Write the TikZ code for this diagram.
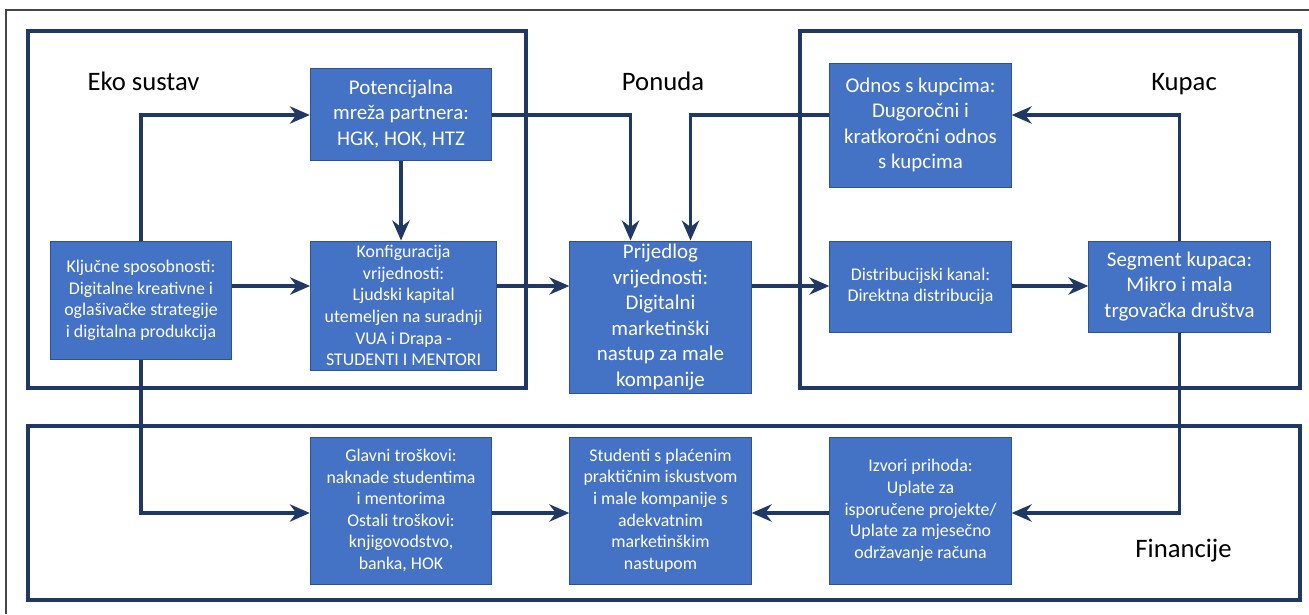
\documentclass[tikz,border=0pt]{standalone}
\usepackage{fontspec}
\setmainfont{Carlito}
\usetikzlibrary{arrows.meta, calc}
\definecolor{boxblue}{RGB}{68,114,196}
\definecolor{boxedge}{RGB}{47,82,143}
\definecolor{linenavy}{RGB}{32,56,100}

\begin{document}
\begin{tikzpicture}[x=0.75pt,y=0.75pt,yscale=-1,xscale=1,
        blok/.style={draw=boxedge, line width=0.75pt, fill=boxblue, text=white, align=center, inner sep=0pt, minimum width=136pt},
        velik/.style={font=\fontsize{15.7}{19.1}\selectfont},
        mali/.style={font=\fontsize{13.4}{16.2}\selectfont},
        okvir/.style={draw=linenavy, line width=2.4pt},
        veza/.style={draw=linenavy, line width=2.4pt, -{Stealth[length=15pt,width=13pt]}},
        naslov/.style={font=\fontsize{20}{24}\selectfont, anchor=base}]
        \useasboundingbox (0,0) rectangle (1309,614);
        
        %outer frame
        \draw [color={rgb, 255:red, 70; green, 70; blue, 70 }, line width=1pt] (6,614) -- (6,10) -- (1309,10) ;
        
        %Group frames
        \draw [okvir] (28,31) rectangle (526,388) ;
        \draw [okvir] (800,31) rectangle (1300,388) ;
        \draw [okvir] (28,426) rectangle (1300,600) ;
        
        % Text Node
        \node [naslov] (eko) at (143.5,90) {Eko sustav};
        \node [naslov] (ponuda) at (663,90) {Ponuda};
        \node [naslov] (kupac) at (1184,90) {Kupac};
        \node [naslov] (financije) at (1183.5,557) {Financije};
        
        % Blocks
        \node [blok, velik, minimum height=69pt] (potencijal) at (401,114) {Potencijalna\\mreža partnera:\\HGK, HOK, HTZ};
        \node [blok, mali, minimum height=89pt] (kljucne) at (141,300.5) {Ključne sposobnosti:\\Digitalne kreativne i\\oglašivačke strategije\\i digitalna produkcija};
        \node [blok, mali, minimum width=139.5pt, minimum height=96.75pt] (konfig) at (403.6,305.5) {Konfiguracija\\vrijednosti:\\Ljudski kapital\\utemeljen na suradnji\\VUA i Drapa -\\STUDENTI I MENTORI};
        \node [blok, velik, minimum height=114pt] (prijedlog) at (660.5,317) {Prijedlog\\vrijednosti:\\Digitalni\\marketinški\\nastup za male\\kompanije};
        \node [blok, velik, minimum height=93pt] (odnos) at (920.5,125) {Odnos s kupcima:\\Dugoročni i\\kratkoročni odnos\\s kupcima};
        \node [blok, mali, minimum height=68.25pt] (distrib) at (920.5,286.5) {Distribucijski kanal:\\Direktna distribucija};
        \node [blok, velik, minimum height=68.25pt] (segment) at (1179.5,286.5) {Segment kupaca:\\Mikro i mala\\trgovačka društva};
        \node [blok, mali, minimum height=110.25pt] (glavni) at (401,510.5) {Glavni troškovi:\\naknade studentima\\i mentorima\\Ostali troškovi:\\knjigovodstvo,\\banka, HOK};
        \node [blok, mali, minimum height=110.25pt] (studenti) at (660.5,510.5) {Studenti s plaćenim\\praktičnim iskustvom\\i male kompanije s\\adekvatnim\\marketinškim\\nastupom};
        \node [blok, mali, minimum height=110.25pt] (izvori) at (920.5,510.5) {Izvori prihoda:\\Uplate za\\isporučene projekte/\\Uplate za mjesečno\\održavanje računa};
        
        %rows of the connectors
        \coordinate (gornji) at (0,115);
        \coordinate (srednji) at (0,286);
        \coordinate (donji) at (0,513);
        
        %Straight Lines
        \draw [veza] (kljucne.north) |- (potencijal.west |- gornji) ;
        \draw [veza] (kljucne.east |- srednji) -- (konfig.west |- srednji) ;
        \draw [veza] (potencijal.south) -- (potencijal.south |- konfig.north) ;
        \draw [veza] (potencijal.east |- gornji) -| ($(prijedlog.north)+(-30,0)$) ;
        \draw [veza] (konfig.east |- srednji) -- (prijedlog.west |- srednji) ;
        \draw [veza] (odnos.west |- gornji) -| ($(prijedlog.north)+(30,0)$) ;
        \draw [veza] (prijedlog.east |- srednji) -- (distrib.west |- srednji) ;
        \draw [veza] (distrib.east |- srednji) -- (segment.west |- srednji) ;
        \draw [veza] (segment.north) |- (odnos.east |- gornji) ;
        \draw [veza] (segment.south) |- (izvori.east |- donji) ;
        \draw [veza] (izvori.west |- donji) -- (studenti.east |- donji) ;
        \draw [veza] (kljucne.south) |- (glavni.west |- donji) ;
        \draw [veza] (glavni.east |- donji) -- (studenti.west |- donji) ;
        
\end{tikzpicture}
\end{document}
